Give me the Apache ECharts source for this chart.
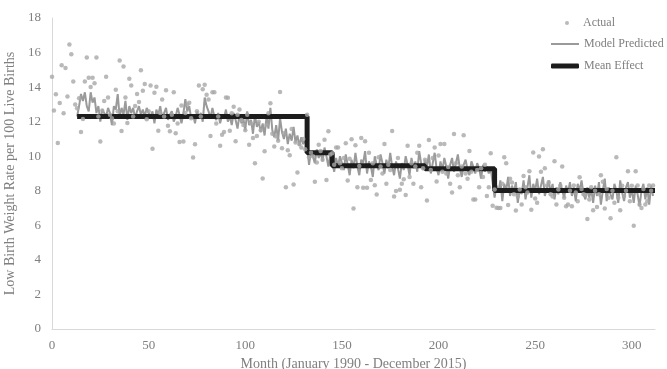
<!DOCTYPE html>
<html>
<head>
<meta charset="utf-8">
<script src="https://cdn.jsdelivr.net/npm/echarts@6/dist/echarts.min.js"></script>
<style>
  html, body { margin: 0; padding: 0; background: #fff; }
  #main { width: 667px; height: 369px; }
</style>
</head>
<body>
<div id="main"></div>
<script>
// actual monthly rates, month 0..311 (one row per year)
const actual = [
  14.6, 12.65, 13.58, 10.77, 13.08, 15.27, 12.48, 15.1, 13.46, 16.46, 15.9, 14.33,
  13.0, 12.77, 13.35, 11.4, 12.16, 14.33, 15.71, 14.54, 14.0, 14.54, 14.23, 15.71,
  12.3, 10.85, 12.65, 13.2, 14.6, 13.4, 12.4, 12.2, 11.9, 13.85, 12.6, 15.54,
  11.46, 15.2, 13.4, 11.93, 14.48, 14.1, 12.3, 12.9, 13.6, 13.14, 14.98, 13.79,
  14.18, 12.14, 12.6, 14.1, 10.43, 13.67, 14.02, 11.48, 12.5, 13.29, 12.3, 13.82,
  11.77, 11.45, 12.4, 13.7, 11.33, 11.9, 10.83, 12.94, 10.85, 12.5, 13.0, 13.1,
  12.2, 9.92, 10.7, 12.6, 14.1, 12.3, 13.87, 14.14, 13.56, 13.29, 11.17, 13.7,
  13.7, 11.9, 12.3, 10.6, 11.25, 11.4, 13.4, 13.38, 11.48, 12.48, 12.87, 10.86,
  12.4, 12.7, 12.1, 11.8, 11.5, 12.4, 10.67, 11.9, 11.06, 9.6, 11.17, 12.0,
  11.5, 8.71, 10.29, 11.8, 12.48, 13.06, 11.3, 10.56, 11.14, 10.9, 13.71, 10.46,
  11.33, 8.21, 10.34, 10.06, 11.58, 8.37, 10.8, 9.06, 10.7, 10.5, 11.0, 10.4,
  12.4, 9.94, 10.2, 10.0, 8.52, 9.64, 10.67, 10.3, 9.8, 10.95, 8.63, 11.44,
  10.1, 10.17, 9.5, 10.5, 10.5, 9.6, 9.3, 9.9, 10.75, 8.6, 9.86, 10.98,
  6.98, 10.63, 8.21, 9.44, 11.05, 8.18, 10.86, 8.18, 10.2, 8.63, 9.6, 8.32,
  7.79, 9.94, 9.4, 9.0, 10.71, 8.4, 9.5, 9.2, 11.46, 7.67, 7.98, 9.9,
  8.06, 8.4, 8.67, 7.75, 10.6, 8.8, 9.6, 8.4, 9.4, 10.2, 10.6, 8.21,
  9.3, 9.8, 7.44, 10.94, 9.2, 9.9, 10.5, 8.54, 10.04, 10.71, 9.1, 10.71,
  9.0, 9.37, 8.4, 7.9, 11.29, 9.6, 8.9, 8.2, 9.4, 11.21, 9.0, 8.7,
  10.3, 9.1, 7.5, 7.5, 9.2, 8.2, 9.3, 8.8, 9.5, 7.7, 8.2, 10.17,
  7.13, 8.07, 7.02, 7.0, 7.0, 8.4, 9.94, 9.6, 7.17, 8.7, 8.48, 7.8,
  6.86, 7.67, 8.07, 7.2, 8.86, 8.2, 7.9, 9.13, 6.9, 10.21, 7.55, 7.3,
  9.98, 9.1, 10.4, 9.3, 8.3, 8.5, 7.8, 7.67, 9.71, 7.2, 8.07, 8.3,
  9.4, 7.6, 7.1, 7.2, 8.0, 7.1, 8.3, 7.9, 7.4, 8.79, 8.1, 7.8,
  7.75, 6.37, 7.5, 8.2, 6.87, 8.0, 7.06, 7.8, 8.9, 8.52, 6.98, 8.1,
  7.6, 6.41, 8.0, 7.3, 9.94, 7.6, 6.87, 8.29, 7.7, 8.0, 9.13, 7.4,
  8.29, 5.98, 9.13, 8.3, 7.21, 7.0, 8.1, 7.2, 7.4, 8.3, 8.0, 8.3
];

// model predicted, month 13..311
const predictedStart = 13;
const predicted = [
  12.3, 12.9, 13.6, 13.2, 13.7, 12.9, 12.6, 13.7, 13.1, 13.4, 12.5, 12.9,
  12.0, 12.7, 12.6, 12.3, 12.8, 12.5, 11.8, 12.9, 12.7, 13.6, 12.3, 12.8,
  12.4, 13.2, 12.1, 12.9, 12.5, 12.8, 12.2, 12.6, 12.9, 12.4, 12.7, 12.3,
  12.8, 12.5, 12.3, 12.6, 11.9, 12.7, 12.4, 12.9, 12.2, 12.5, 12.8, 12.1,
  12.4, 12.6, 12.0, 12.3, 12.8, 12.4, 11.9, 12.5, 13.3, 12.6, 12.9, 12.2,
  12.4, 11.9, 12.6, 12.3, 12.5, 12.0, 13.4, 12.9, 12.6, 12.2, 12.8, 12.3,
  12.1, 12.5, 11.9, 12.4, 12.2, 12.7, 12.0, 12.3, 11.8, 12.5, 12.1, 11.6,
  12.4, 11.9, 12.2, 11.5, 12.6, 11.8, 12.1, 11.3, 12.4, 11.7, 12.0, 11.4,
  11.9, 11.2, 12.3, 11.6, 12.8, 11.5, 11.1, 11.8, 10.9, 12.2, 11.4, 11.0,
  11.6, 10.7, 11.3, 10.9, 11.7, 10.8, 11.2, 10.6, 11.1, 10.7, 10.9, 10.6,
  9.5, 10.3, 10.0, 9.6, 10.4, 9.9, 10.2, 9.7, 10.5, 10.0, 9.4, 10.1,
  9.7, 9.1, 9.9, 9.4, 10.0, 9.6, 9.2, 10.1, 9.5, 8.9, 9.8, 9.3,
  10.2, 9.4, 8.9, 9.8, 9.6, 10.3, 9.0, 9.7, 9.4, 8.8, 10.0, 9.5,
  9.2, 10.1, 9.6, 9.0, 9.8, 9.3, 10.2, 9.4, 8.9, 9.7, 9.3, 8.7,
  9.6, 9.2, 10.0, 9.5, 8.9, 9.9, 9.3, 9.7, 9.1, 10.3, 9.6, 9.2,
  9.8, 9.4, 10.1, 9.0, 9.6, 10.2, 9.3, 8.9, 9.7, 9.2, 9.9, 9.4,
  8.7, 9.5, 9.9, 9.1, 9.6, 10.1, 9.3, 8.8, 9.5, 9.8, 9.2, 8.9,
  9.7, 9.4, 9.0, 9.6, 9.3, 8.7, 9.5, 9.1, 9.4, 9.0, 9.3, 9.2,
  7.6, 8.3, 7.9, 8.6, 7.4, 8.4, 8.0, 8.8, 7.7, 8.3, 7.9, 8.5,
  7.3, 8.1, 7.8, 8.6, 7.5, 8.2, 8.9, 7.6, 8.4, 8.0, 8.7, 7.8,
  8.3, 8.8, 7.7, 8.1, 8.6, 7.9, 8.4, 7.5, 8.2, 7.8, 8.5, 8.0,
  7.6, 8.3, 7.9, 8.5, 7.7, 8.2, 7.4, 8.4, 8.0, 8.6, 7.8, 7.5,
  8.2, 7.6, 8.1, 7.3, 8.3, 7.7, 8.5, 7.2, 8.0, 8.7, 7.4, 8.2,
  7.8, 7.5, 8.4, 8.0, 7.3, 8.6, 7.9, 7.4, 8.2, 8.5, 7.6, 8.1,
  7.3, 8.3, 7.8, 7.1, 8.0, 8.4, 7.5, 8.2, 7.2, 8.3, 7.7
];

// mean effect: segment boundaries (months) and level of each segment
const meanBreaks = [13, 132, 145, 193, 229, 312];
const meanLevels = [12.3, 10.2, 9.45, 9.28, 8.02];

const xTicks = [0, 50, 100, 150, 200, 250, 300];
const yTicks = [0, 2, 4, 6, 8, 10, 12, 14, 16, 18];

const actualData = actual.map((v, i) => [i, v]);
const predictedData = predicted.map((v, i) => [predictedStart + i, v]);
const meanData = [];
meanLevels.forEach((lvl, i) => {
  meanData.push([meanBreaks[i], lvl]);
  meanData.push([meanBreaks[i + 1], lvl]);
});

const textColor = '#7f7f7f';
const font = 'Liberation Serif';
const dotColor = '#a8a8a8';
const predColor = '#9a9a9a';
const meanColor = '#1c1c1c';

// one legend per entry so each icon can have its own shape
function legendItem(name, left, top, icon, w, h, color, textPad) {
  return {
    orient: 'vertical',
    left: left,
    top: top,
    padding: 0,
    itemWidth: w,
    itemHeight: h,
    icon: icon,
    itemStyle: { color: color, borderWidth: 0 },
    textStyle: { color: textColor, fontSize: 12, fontFamily: font, padding: [0, 0, 0, textPad] },
    data: [name]
  };
}

const chart = echarts.init(document.getElementById('main'));
chart.setOption({
  animation: false,
  textStyle: { fontFamily: font },
  grid: { left: 52, right: 12, top: 18, bottom: 40, outerBoundsMode: 'none', containLabel: false },
  legend: [
    legendItem('Actual', 565, 17, 'circle', 4, 4, dotColor, 9),
    legendItem('Model Predicted', 551, 38, 'rect', 28, 2, predColor, 0),
    legendItem('Mean Effect', 551, 60, 'roundRect', 28, 5, meanColor, 0)
  ],
  xAxis: {
    type: 'value',
    min: 0,
    max: 312,
    interval: 50,
    name: 'Month (January 1990 - December 2015)',
    nameLocation: 'middle',
    nameGap: 28,
    nameTextStyle: { color: textColor, fontSize: 14, fontFamily: font },
    axisLine: { show: true, lineStyle: { color: '#d9d9d9', width: 1 } },
    axisTick: { show: false },
    splitLine: { show: false },
    axisLabel: {
      color: textColor,
      fontSize: 13,
      margin: 10,
      showMaxLabel: false,
      formatter: v => (xTicks.indexOf(v) >= 0 ? String(v) : '')
    }
  },
  yAxis: {
    type: 'value',
    min: 0,
    max: 18,
    interval: 2,
    name: 'Low Birth Weight Rate per 100 Live Births',
    nameLocation: 'middle',
    nameGap: 33,
    nameTextStyle: { color: textColor, fontSize: 14, fontFamily: font },
    axisLine: { show: true, lineStyle: { color: '#d9d9d9', width: 1 } },
    axisTick: { show: false },
    splitLine: { show: false },
    axisLabel: {
      color: textColor,
      fontSize: 13,
      margin: 11,
      formatter: v => (yTicks.indexOf(v) >= 0 ? String(v) : '')
    }
  },
  series: [
    {
      name: 'Model Predicted',
      type: 'line',
      data: predictedData,
      symbol: 'none',
      z: 2,
      lineStyle: { color: predColor, width: 2 },
      itemStyle: { color: predColor }
    },
    {
      name: 'Mean Effect',
      type: 'line',
      data: meanData,
      symbol: 'none',
      z: 3,
      lineStyle: { color: meanColor, width: 5 },
      itemStyle: { color: meanColor }
    },
    {
      name: 'Actual',
      type: 'scatter',
      data: actualData,
      symbolSize: 4.5,
      z: 4,
      itemStyle: { color: dotColor }
    }
  ]
});
</script>
</body>
</html>
